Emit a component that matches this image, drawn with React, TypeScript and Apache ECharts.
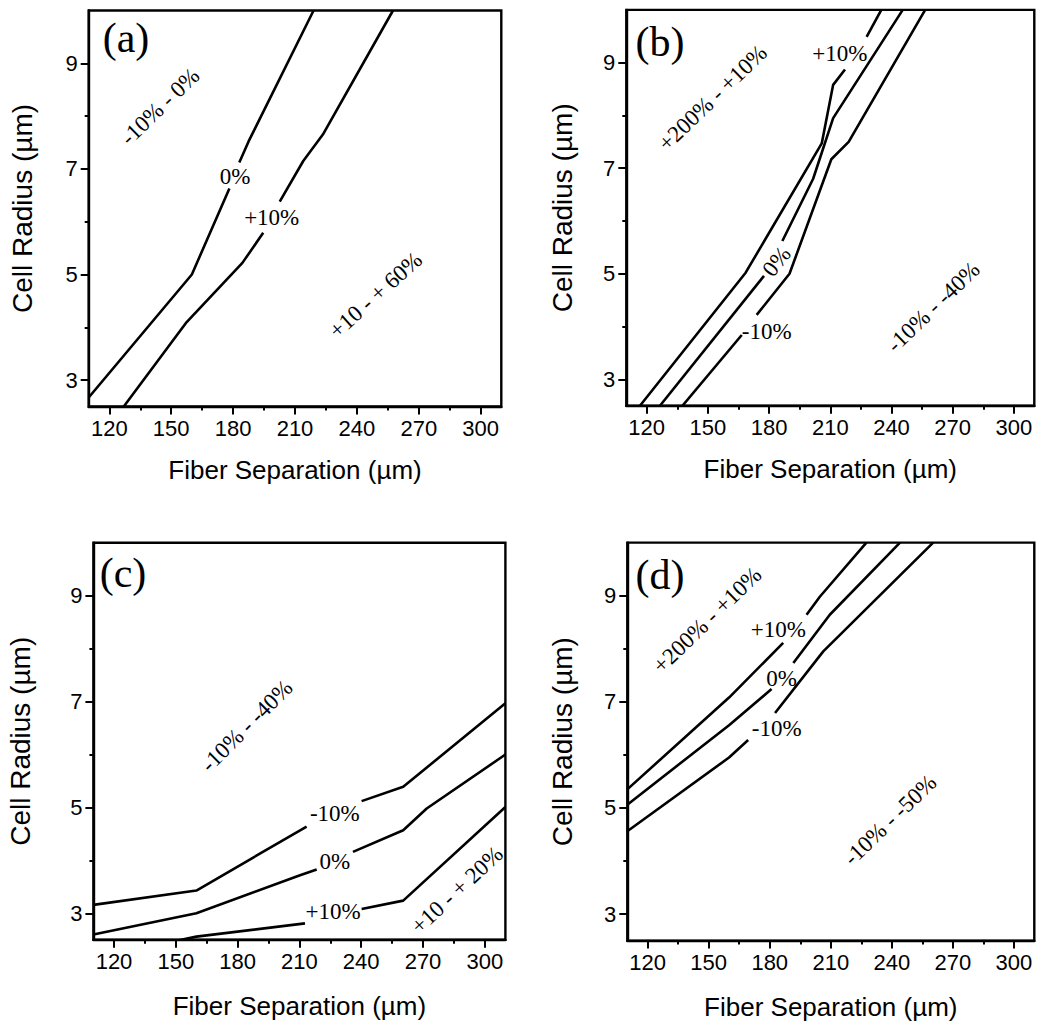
import React, { useEffect, useRef } from "react";
import * as echarts from "echarts";

// ---------- axes ----------
const xMajorTicks = [120, 150, 180, 210, 240, 270, 300];
const xMinorTicks = [135, 165, 195, 225, 255, 285];
const yMajorTicks = [3, 5, 7, 9];
const yMinorTicks = [4, 6, 8];
const xRange = [110, 310];
const yRange = [2.5, 10];

const panelNames = ["(a)", "(b)", "(c)", "(d)"];
const xTitle = "Fiber Separation (µm)";
const yTitle = "Cell Radius (µm)";

// ---------- panel (a) contours: each contour = list of segments (gaps hold the labels) ----------
const aZero = [
  [[110, 2.67], [160, 5.0], [178.2, 6.63]],
  [[183, 7.12], [187.5, 7.52], [219, 10]],
];
const aPlus10 = [
  [[127, 2.5], [157.5, 4.1], [184.5, 5.22], [194.6, 5.79]],
  [[202.6, 6.38], [214, 7.15], [223.5, 7.65], [257.5, 10]],
];
const aLabels = [
  ["0%", 180.9, 6.85],
  ["+10%", 198.7, 6.08],
  ["-10% - 0%", 144.6, 8.18],
  ["+10 - + 60%", 249.1, 4.61],
];
const aAngles = [0, 0, 44, 42];

// ---------- panel (b) ----------
const bPlus10 = [
  [[116.7, 2.5], [168.5, 5.02], [205.8, 7.47], [211.4, 8.58], [217.2, 8.87]],
  [[227.8, 9.49], [235, 10]],
];
const bZero = [
  [[126.5, 2.5], [177.5, 4.96]],
  [[186.5, 5.62], [201.6, 6.8], [211.4, 7.95], [245.5, 10]],
];
const bMinus10 = [
  [[137.1, 2.48], [166.6, 3.84]],
  [[173.9, 4.22], [190, 5.0], [210.5, 7.17], [219, 7.5], [256.5, 10]],
];
const bLabels = [
  ["+10%", 214.7, 9.18],
  ["0%", 183.7, 5.23],
  ["-10%", 178.8, 3.9],
  ["+200% - +10%", 152.3, 8.33],
  ["-10% - -40%", 260.5, 4.37],
];
const bAngles = [0, 52, 0, 44, 44];

// ---------- panel (c) ----------
const cMinus10 = [
  [[110, 3.16], [160, 3.43], [213.5, 4.64]],
  [[240.2, 5.12], [260.4, 5.39], [310, 6.97]],
];
const cZero = [
  [[110, 2.6], [160, 3.0], [210.3, 3.72], [218.4, 3.83]],
  [[236, 4.16], [260.4, 4.57], [271.8, 4.98], [310, 6.0]],
];
const cPlus10 = [
  [[150.4, 2.48], [160, 2.56], [212.7, 2.81]],
  [[240.2, 3.08], [260.4, 3.24], [310, 5.01]],
];
const cLabels = [
  ["-10%", 227.2, 4.89],
  ["0%", 227.2, 3.98],
  ["+10%", 226.4, 3.03],
  ["-10% - -40%", 184.4, 6.54],
  ["+10 - + 20%", 286.5, 3.44],
];
const cAngles = [0, 0, 0, 45, 43];

// ---------- panel (d) ----------
const dPlus10 = [
  [[110, 5.35], [160, 7.08], [186.6, 8.11]],
  [[198.1, 8.64], [204.6, 8.98], [227.5, 10]],
];
const dZero = [
  [[110, 5.06], [160, 6.56], [180.9, 7.24]],
  [[191.6, 7.73], [209.5, 8.64], [244, 10]],
];
const dMinus10 = [
  [[110, 4.56], [160, 5.95], [169.4, 6.28]],
  [[182.6, 6.79], [206.3, 7.95], [260.3, 10]],
];
const dLabels = [
  ["+10%", 184.2, 8.37],
  ["0%", 185.8, 7.44],
  ["-10%", 183.4, 6.5],
  ["+200% - +10%", 149.3, 8.54],
  ["-10% - -50%", 239.1, 4.77],
];
const dAngles = [0, 0, 0, 44, 44];

const panelContours = [
  [aZero, aPlus10],
  [bPlus10, bZero, bMinus10],
  [cMinus10, cZero, cPlus10],
  [dPlus10, dZero, dMinus10],
];
const panelLabels = [aLabels, bLabels, cLabels, dLabels];
const panelAngles = [aAngles, bAngles, cAngles, dAngles];

// ---------- layout (pixels) ----------
const GRIDS = [
  { left: 88.7, top: 10.5, width: 412.6, height: 396 },
  { left: 626.3, top: 9.9, width: 408, height: 395.8 },
  { left: 93.4, top: 542.8, width: 412, height: 397 },
  { left: 627.3, top: 542.6, width: 407, height: 398 },
];
const X_NAME_GAP = [50, 50, 53, 53];
const Y_NAME_GAP = [52, 50, 59, 51];
const PANEL_TAG_POS = [
  [126, 38],
  [660, 42],
  [123, 573],
  [660, 575],
];

const SANS = "'Liberation Sans', Arial, Helvetica, sans-serif";
const SERIF = "'Liberation Serif', 'Times New Roman', Times, serif";
const INK = "#000";
const LINE_W = 2.6;
const AXIS_W = 2.4;

function buildOption() {
  const xAxis: any[] = [];
  const yAxis: any[] = [];
  const series: any[] = [];
  const graphic: any[] = [];

  GRIDS.forEach((g, i) => {
    xAxis.push({
      type: "value",
      gridIndex: i,
      position: "bottom",
      min: xRange[0],
      max: xRange[1],
      name: xTitle,
      nameLocation: "middle",
      nameGap: X_NAME_GAP[i],
      nameTextStyle: { fontFamily: SANS, fontSize: 26, color: INK },
      axisLine: { show: true, lineStyle: { color: INK, width: AXIS_W } },
      axisTick: {
        show: true,
        length: 8,
        lineStyle: { color: INK, width: 2 },
        customValues: xMajorTicks,
      },
      axisLabel: {
        show: true,
        customValues: xMajorTicks,
        fontFamily: SANS,
        fontSize: 22,
        color: INK,
        margin: 11,
      },
      splitLine: { show: false },
    });
    xAxis.push({
      type: "value",
      gridIndex: i,
      position: "bottom",
      min: xRange[0],
      max: xRange[1],
      axisLine: { show: false },
      axisTick: {
        show: true,
        length: 4,
        lineStyle: { color: INK, width: 2 },
        customValues: xMinorTicks,
      },
      axisLabel: { show: false, customValues: xMinorTicks },
      splitLine: { show: false },
    });
    yAxis.push({
      type: "value",
      gridIndex: i,
      position: "left",
      min: yRange[0],
      max: yRange[1],
      name: yTitle,
      nameLocation: "middle",
      nameRotate: 90,
      nameGap: Y_NAME_GAP[i],
      nameTextStyle: { fontFamily: SANS, fontSize: 28, color: INK },
      axisLine: { show: true, lineStyle: { color: INK, width: AXIS_W } },
      axisTick: {
        show: true,
        length: 8,
        lineStyle: { color: INK, width: 2 },
        customValues: yMajorTicks,
      },
      axisLabel: {
        show: true,
        customValues: yMajorTicks,
        fontFamily: SANS,
        fontSize: 22,
        color: INK,
        margin: 11,
      },
      splitLine: { show: false },
    });
    yAxis.push({
      type: "value",
      gridIndex: i,
      position: "left",
      min: yRange[0],
      max: yRange[1],
      axisLine: { show: false },
      axisTick: {
        show: true,
        length: 4,
        lineStyle: { color: INK, width: 2 },
        customValues: yMinorTicks,
      },
      axisLabel: { show: false, customValues: yMinorTicks },
      splitLine: { show: false },
    });

    panelContours[i].forEach((contour) => {
      contour.forEach((seg) => {
        series.push({
          type: "line",
          xAxisIndex: 2 * i,
          yAxisIndex: 2 * i,
          data: seg,
          symbol: "none",
          silent: true,
          lineStyle: { color: INK, width: LINE_W },
          z: 3,
        });
      });
    });

    series.push({
      type: "scatter",
      xAxisIndex: 2 * i,
      yAxisIndex: 2 * i,
      symbolSize: 1,
      silent: true,
      itemStyle: { color: "rgba(0,0,0,0)", opacity: 1 },
      data: panelLabels[i].map((l, k) => ({
        name: l[0],
        value: [l[1], l[2]],
        label: { rotate: panelAngles[i][k] },
      })),
      label: {
        show: true,
        position: "inside",
        formatter: "{b}",
        fontFamily: SERIF,
        fontSize: 23,
        color: INK,
        opacity: 1,
        textBorderWidth: 0,
      },
      z: 4,
    });

    graphic.push({
      type: "text",
      x: PANEL_TAG_POS[i][0],
      y: PANEL_TAG_POS[i][1],
      style: {
        text: panelNames[i],
        fontFamily: SERIF,
        fontSize: 42,
        fill: INK,
        align: "center",
        verticalAlign: "middle",
        textAlign: "center",
        textVerticalAlign: "middle",
      },
      z: 10,
    });
  });

  return {
    animation: false,
    backgroundColor: "#fff",
    grid: GRIDS.map((g) => ({
      ...g,
      show: true,
      borderColor: INK,
      borderWidth: AXIS_W,
      backgroundColor: "transparent",
      containLabel: false,
    })),
    xAxis,
    yAxis,
    series,
    graphic,
  };
}

export default function App() {
  const ref = useRef<HTMLDivElement>(null);
  useEffect(() => {
    if (!ref.current) return;
    const chart = echarts.init(ref.current, undefined, { renderer: "svg" });
    chart.setOption(buildOption() as any);
    return () => chart.dispose();
  }, []);
  return (
    <div
      ref={ref}
      style={{ position: "absolute", left: 0, top: 0, width: 1050, height: 1029 }}
    />
  );
}
